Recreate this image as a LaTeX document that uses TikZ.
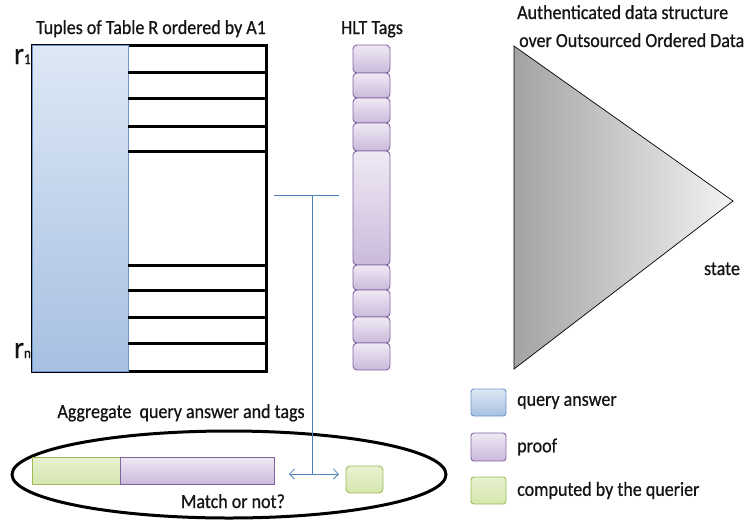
\documentclass[tikz,border=0pt]{standalone}
\usepackage{fontspec}
\setmainfont{Carlito}[FakeStretch=0.9,FakeBold=0.7]
\usetikzlibrary{arrows.meta,shapes.geometric}
\definecolor{txt}{HTML}{141414}
\definecolor{bluedraw}{HTML}{6F95C9}
\definecolor{bluetop}{HTML}{DDE8F5}
\definecolor{bluebot}{HTML}{A7C0E2}
\definecolor{purpdraw}{HTML}{8064A2}
\definecolor{purptop}{HTML}{EFE9F4}
\definecolor{purpbot}{HTML}{CBBADB}
\definecolor{greendraw}{HTML}{9BBB59}
\definecolor{greentop}{HTML}{E8F1D0}
\definecolor{greenbot}{HTML}{D6E7AE}
\definecolor{linkblue}{HTML}{4F81BD}
\begin{document}
\begin{tikzpicture}[x=1pt,y=-1pt,
  box/.style={inner sep=0pt, outer sep=0pt, anchor=north west},
  label/.style={font=\fontsize{20}{22}\selectfont, text=txt, inner sep=0pt},
  answer/.style={box, draw=bluedraw, line width=0.9pt, top color=bluetop, bottom color=bluebot},
  tag/.style={box, draw=purpdraw, line width=0.9pt, rounded corners=4pt, top color=purptop, bottom color=purpbot},
  mine/.style={box, draw=greendraw, line width=0.9pt, top color=greentop, bottom color=greenbot},
  rowline/.style={line width=3pt, black},
  link/.style={draw=linkblue, line width=0.8pt}
]
\useasboundingbox (0,0) rectangle (752,523);

% ---- table of tuples ----
\node[box, draw=black, line width=3pt, minimum width=234pt, minimum height=326pt] (tbl) at (32,45) {};
\node[answer, minimum width=96pt, minimum height=326pt] (col) at (32,45) {};
\foreach \y in {72,98,126,151,265,290,317,343}
  \draw[rowline] (col.east |- 0,\y) -- (tbl.east |- 0,\y);
\node[label, anchor=base] (ttl) at (151,34) {Tuples of Table R ordered by A1};
\node[label, anchor=base west] (r1) at (14,64) {{\fontsize{31}{31}\selectfont r}{\fontsize{15}{15}\selectfont 1}};
\node[label, anchor=base west] (rn) at (14,358) {{\fontsize{31}{31}\selectfont r}{\fontsize{15}{15}\selectfont n}};

% ---- HLT tags ----
\node[label, anchor=base] (hlt) at (372,34) {HLT Tags};
\foreach \a/\b [count=\i] in {45/73,73/98,98/123,123/151,151/265,265/290,290/317,317/343,343/370}
  \node[tag, minimum width=37pt, minimum height=\b-\a] (tag\i) at (353,\a) {};

% ---- authenticated data structure ----
\coordinate (tA) at (514,46);
\coordinate (tB) at (733,201);
\coordinate (tC) at (514,369);
\path[left color=black!36, right color=black!5] (tA) -- (tB) -- (tC) -- cycle;
\draw[line width=0.7pt] (tA) -- (tB) -- (tC) -- cycle;
\node[label, anchor=base west] (ads1) at (517,19) {Authenticated data structure};
\node[label, anchor=base west] (ads2) at (519,47) {over Outsourced Ordered Data};
\node[label, anchor=base] (st) at (722,275) {state};

% ---- aggregation and check ----
\node[ellipse, draw=black, line width=3pt, minimum width=434pt, minimum height=87pt, inner sep=0pt] (agg) at (229,474.5) {};
\node[mine, minimum width=234pt, minimum height=27pt] (gbar) at (32,457) {};
\node[box, draw=purpdraw, line width=0.9pt, top color=purptop, bottom color=purpbot, minimum width=154pt, minimum height=27pt] (pbar) at (120,457) {};
\node[mine, rounded corners=4pt, minimum width=37pt, minimum height=27pt] (gbox) at (346,466) {};
\node[label, anchor=base] (aggl) at (181,418) {Aggregate\ \ query answer and tags};
\node[label, anchor=base] (match) at (233,508) {Match or not?};

\coordinate (hl) at (274,195);
\coordinate (hr) at (339,195);
\coordinate (hm) at (312,195);
\coordinate (al) at (289,474);
\coordinate (ar) at (339,474);
\draw[link] (hl) -- (hr);
\draw[link] (hm) -- (hm |- al);
\draw[link, {Straight Barb[length=5pt,width=10pt]}-{Straight Barb[length=5pt,width=10pt]}] (al) -- (ar);

% ---- legend ----
\node[answer, rounded corners=3pt, minimum width=35pt, minimum height=27pt] (lg1) at (471,389) {};
\node[tag, rounded corners=3pt, minimum width=35pt, minimum height=28pt] (lg2) at (471,433) {};
\node[mine, rounded corners=3pt, minimum width=35pt, minimum height=27pt] (lg3) at (471,477) {};
\node[label, anchor=west] at ([xshift=11pt]lg1.east) {query answer};
\node[label, anchor=west] at ([xshift=11pt]lg2.east) {proof};
\node[label, anchor=west] at ([xshift=11pt]lg3.east) {computed by the querier};
\end{tikzpicture}
\end{document}
